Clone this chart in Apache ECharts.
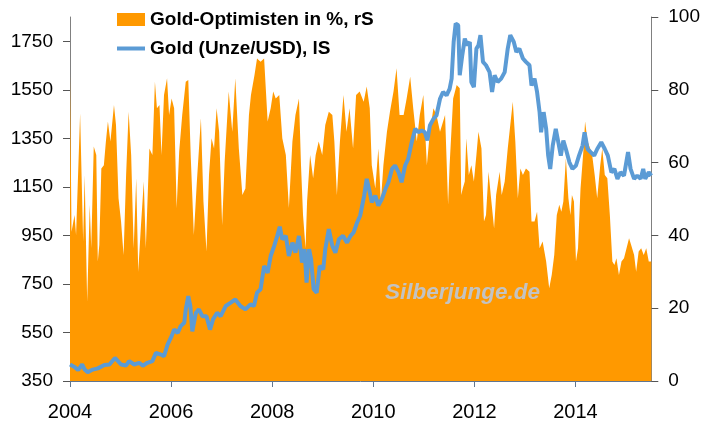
<!DOCTYPE html>
<html>
<head>
<meta charset="utf-8">
<script src="https://cdn.jsdelivr.net/npm/echarts@6/dist/echarts.min.js"></script>
<style>
  html, body { margin: 0; padding: 0; background: #fff; }
  #chart { width: 703px; height: 423px; }
</style>
</head>
<body>
<div id="chart"></div>
<script>
// Gold-Optimisten in % (rechte Achse)
var optYears = [2004.00, 2004.03, 2004.09, 2004.12, 2004.20, 2004.26, 2004.29, 2004.34, 2004.39, 2004.42,
    2004.47, 2004.52, 2004.55, 2004.58, 2004.62, 2004.67, 2004.71, 2004.75, 2004.80, 2004.87,
    2004.91, 2004.96, 2005.01, 2005.06, 2005.11, 2005.16, 2005.21, 2005.26, 2005.31, 2005.35,
    2005.40, 2005.46, 2005.50, 2005.57, 2005.63, 2005.68, 2005.72, 2005.77, 2005.81, 2005.86,
    2005.92, 2005.96, 2006.01, 2006.06, 2006.11, 2006.16, 2006.22, 2006.29, 2006.34, 2006.39,
    2006.45, 2006.51, 2006.59, 2006.64, 2006.70, 2006.75, 2006.80, 2006.85, 2006.90, 2006.95,
    2007.01, 2007.06, 2007.14, 2007.21, 2007.27, 2007.34, 2007.41, 2007.47, 2007.54, 2007.58,
    2007.65, 2007.70, 2007.77, 2007.84, 2007.91, 2007.97, 2008.02, 2008.07, 2008.14, 2008.20,
    2008.27, 2008.33, 2008.40, 2008.46, 2008.53, 2008.57, 2008.61, 2008.66, 2008.69, 2008.75,
    2008.81, 2008.86, 2008.92, 2008.99, 2009.05, 2009.12, 2009.19, 2009.23, 2009.28, 2009.34,
    2009.41, 2009.47, 2009.53, 2009.60, 2009.66, 2009.73, 2009.81, 2009.87, 2009.93, 2009.97,
    2010.04, 2010.10, 2010.15, 2010.20, 2010.27, 2010.33, 2010.40, 2010.46, 2010.52, 2010.60,
    2010.66, 2010.73, 2010.79, 2010.86, 2010.92, 2010.99, 2011.06, 2011.12, 2011.19, 2011.25,
    2011.32, 2011.42, 2011.48, 2011.51, 2011.58, 2011.65, 2011.71, 2011.74, 2011.77, 2011.81,
    2011.84, 2011.89, 2011.94, 2011.99, 2012.04, 2012.08, 2012.14, 2012.19, 2012.23, 2012.28,
    2012.33, 2012.39, 2012.43, 2012.50, 2012.54, 2012.60, 2012.66, 2012.71, 2012.76, 2012.81,
    2012.86, 2012.91, 2012.96, 2013.02, 2013.09, 2013.13, 2013.19, 2013.24, 2013.29, 2013.35,
    2013.42, 2013.48, 2013.53, 2013.58, 2013.63, 2013.68, 2013.72, 2013.76, 2013.81, 2013.86,
    2013.90, 2013.93, 2013.97, 2014.01, 2014.05, 2014.10, 2014.16, 2014.19, 2014.24, 2014.29,
    2014.33, 2014.38, 2014.43, 2014.49, 2014.53, 2014.58, 2014.63, 2014.68, 2014.73, 2014.77,
    2014.81, 2014.86, 2014.91, 2014.96, 2015.01, 2015.06, 2015.10, 2015.16, 2015.20, 2015.25,
    2015.30, 2015.35, 2015.40, 2015.45, 2015.50];
var optValues = [84.6, 41.0, 45.6, 40.1, 73.5, 38.3, 56.6, 21.8, 48.4, 36.5,
    64.4, 62.1, 32.8, 37.4, 58.4, 59.3, 65.8, 71.3, 65.8, 75.8,
    70.3, 50.2, 43.8, 34.6, 56.6, 74.0, 62.1, 36.5, 55.7, 30.0,
    41.9, 54.8, 36.5, 63.9, 62.1, 82.2, 74.9, 75.8, 62.1, 78.6,
    83.2, 73.1, 77.6, 74.9, 47.5, 63.0, 73.1, 82.2, 82.7, 61.2,
    40.1, 54.8, 72.2, 49.3, 35.6, 56.6, 66.7, 63.9, 74.9, 68.5,
    42.8, 60.3, 79.5, 68.5, 83.2, 63.9, 51.1, 52.9, 73.1, 78.6,
    84.1, 88.6, 87.7, 88.6, 71.3, 74.9, 79.5, 77.6, 78.6, 66.7,
    62.1, 47.5, 65.8, 73.1, 77.6, 59.3, 45.6, 36.5, 49.3, 62.1,
    55.7, 62.1, 65.8, 62.1, 70.3, 74.0, 73.1, 65.8, 51.1, 65.8,
    78.6, 68.5, 74.9, 63.9, 78.6, 79.5, 76.7, 80.9, 74.9, 59.3,
    52.9, 63.9, 49.3, 59.3, 68.5, 74.0, 79.5, 85.9, 73.1, 73.1,
    77.6, 83.6, 74.9, 65.8, 73.1, 78.6, 59.3, 68.5, 74.9, 73.1,
    68.5, 73.1, 48.4, 59.3, 77.6, 81.3, 80.4, 51.1, 52.9, 54.8,
    66.7, 56.6, 59.3, 54.8, 62.1, 68.5, 63.9, 43.8, 45.6, 57.5,
    50.2, 41.9, 51.1, 57.5, 51.1, 54.8, 63.9, 70.3, 76.7, 65.8,
    50.2, 58.4, 56.6, 58.4, 57.5, 43.8, 43.8, 46.5, 36.5, 38.3,
    32.8, 25.5, 29.1, 34.6, 45.6, 48.4, 46.5, 49.3, 61.2, 50.2,
    45.6, 51.1, 49.3, 32.8, 36.5, 52.9, 63.9, 71.3, 65.8, 63.9,
    62.1, 56.6, 50.2, 59.3, 63.9, 56.6, 55.7, 45.6, 32.8, 31.9,
    33.7, 29.1, 32.8, 33.7, 36.5, 39.2, 37.4, 34.6, 30.0, 35.6,
    36.5, 34.6, 36.5, 32.8, 32.8];

// Gold (Unze/USD) (linke Achse)
var goldYears = [2004.00, 2004.09, 2004.16, 2004.24, 2004.29, 2004.35, 2004.45, 2004.55, 2004.68, 2004.78,
    2004.89, 2005.01, 2005.11, 2005.17, 2005.27, 2005.37, 2005.44, 2005.53, 2005.63, 2005.70,
    2005.80, 2005.86, 2005.93, 2006.01, 2006.06, 2006.13, 2006.19, 2006.26, 2006.29, 2006.34,
    2006.38, 2006.42, 2006.49, 2006.55, 2006.62, 2006.70, 2006.77, 2006.83, 2006.91, 2006.98,
    2007.08, 2007.18, 2007.27, 2007.37, 2007.47, 2007.57, 2007.64, 2007.70, 2007.77, 2007.84,
    2007.91, 2007.97, 2008.04, 2008.10, 2008.15, 2008.20, 2008.27, 2008.33, 2008.40, 2008.46,
    2008.53, 2008.59, 2008.64, 2008.68, 2008.73, 2008.77, 2008.82, 2008.88, 2008.94, 2009.01,
    2009.05, 2009.12, 2009.19, 2009.25, 2009.32, 2009.40, 2009.48, 2009.55, 2009.61, 2009.68,
    2009.74, 2009.82, 2009.87, 2009.93, 2009.97, 2010.04, 2010.10, 2010.17, 2010.24, 2010.30,
    2010.37, 2010.43, 2010.50, 2010.56, 2010.63, 2010.69, 2010.76, 2010.83, 2010.89, 2010.96,
    2011.02, 2011.07, 2011.12, 2011.19, 2011.25, 2011.32, 2011.38, 2011.45, 2011.51, 2011.55,
    2011.59, 2011.63, 2011.68, 2011.71, 2011.76, 2011.81, 2011.86, 2011.91, 2011.94, 2011.99,
    2012.04, 2012.08, 2012.12, 2012.17, 2012.23, 2012.30, 2012.35, 2012.40, 2012.46, 2012.53,
    2012.60, 2012.66, 2012.71, 2012.78, 2012.83, 2012.89, 2012.96, 2013.02, 2013.09, 2013.13,
    2013.19, 2013.24, 2013.29, 2013.32, 2013.37, 2013.42, 2013.46, 2013.50, 2013.55, 2013.61,
    2013.66, 2013.71, 2013.76, 2013.81, 2013.88, 2013.94, 2014.01, 2014.07, 2014.14, 2014.18,
    2014.24, 2014.30, 2014.37, 2014.43, 2014.51, 2014.58, 2014.64, 2014.71, 2014.77, 2014.83,
    2014.89, 2014.96, 2015.04, 2015.09, 2015.16, 2015.22, 2015.29, 2015.34, 2015.38, 2015.45,
    2015.50];
var goldPrices = [418, 408, 395, 418, 397, 386, 397, 402, 416, 418,
    445, 418, 414, 432, 418, 425, 413, 425, 432, 466,
    459, 452, 500, 535, 562, 548, 576, 590, 645, 700,
    659, 555, 631, 645, 617, 617, 562, 604, 631, 617,
    659, 673, 686, 659, 645, 666, 659, 714, 728, 824,
    796, 865, 907, 948, 986, 934, 948, 865, 920, 879,
    948, 838, 893, 755, 893, 851, 728, 714, 824, 810,
    893, 976, 907, 879, 934, 948, 920, 948, 962, 1003,
    1031, 1114, 1183, 1128, 1086, 1114, 1073, 1100, 1141, 1169,
    1224, 1238, 1210, 1169, 1238, 1265, 1334, 1389, 1375, 1382,
    1375, 1341, 1403, 1430, 1444, 1513, 1541, 1527, 1554, 1596,
    1747, 1823, 1816, 1610, 1692, 1761, 1733, 1747, 1582, 1561,
    1720, 1733, 1775, 1665, 1651, 1623, 1541, 1610, 1582, 1596,
    1623, 1720, 1775, 1747, 1706, 1720, 1679, 1665, 1651, 1568,
    1596, 1541, 1458, 1375, 1458, 1389, 1279, 1224, 1320, 1389,
    1334, 1279, 1341, 1306, 1251, 1224, 1238, 1279, 1320, 1375,
    1306, 1293, 1279, 1306, 1334, 1306, 1279, 1210, 1224, 1183,
    1210, 1196, 1293, 1224, 1183, 1196, 1183, 1224, 1183, 1210,
    1196];

var yearTicks = [2004, 2006, 2008, 2010, 2012, 2014];
var leftTicks = [350, 550, 750, 950, 1150, 1350, 1550, 1750];
var rightTicks = [0, 20, 40, 60, 80, 100];

var optData = optYears.map(function (y, i) { return [y, optValues[i]]; });
var goldData = goldYears.map(function (y, i) { return [y, goldPrices[i]]; });

var font = 'Liberation Sans, Arial, sans-serif';
var plain = function (v) { return String(v); };
var myChart = echarts.init(document.getElementById('chart'));

var option = {
    animation: false,
    backgroundColor: '#fff',
    grid: { left: 70, right: 49, top: 17, bottom: 42 },
    legend: {
        orient: 'vertical',
        left: 115,
        top: 10,
        padding: 0,
        itemWidth: 28,
        itemHeight: 13,
        itemGap: 10,
        textStyle: { fontFamily: font, fontSize: 19, fontWeight: 'bold', color: '#000' },
        data: [
            { name: 'Gold-Optimisten in %, rS', icon: 'rect' },
            { name: 'Gold (Unze/USD), lS', itemStyle: { opacity: 0 }, lineStyle: { width: 4 } }
        ]
    },
    graphic: [{
        type: 'text',
        left: 385,
        top: 281,
        z: 100,
        style: {
            text: 'Silberjunge.de',
            font: 'italic bold 22.5px ' + font,
            fill: '#c3c3c3'
        }
    }],
    xAxis: {
        type: 'value',
        min: 2004,
        max: 2015.5,
        splitLine: { show: false },
        axisLine: { show: true, lineStyle: { color: '#62768f', width: 1 } },
        axisTick: { show: true, length: 6, customValues: yearTicks, lineStyle: { color: '#62768f' } },
        axisLabel: {
            customValues: yearTicks,
            margin: 21,
            fontFamily: font,
            fontSize: 20,
            color: '#000',
            formatter: plain
        }
    },
    yAxis: [{
        type: 'value',
        min: 350,
        max: 1850,
        splitLine: { show: false },
        axisLine: { show: true, lineStyle: { color: '#808080' } },
        axisTick: { show: true, length: 7, customValues: leftTicks, lineStyle: { color: '#555' } },
        axisLabel: {
            customValues: leftTicks,
            margin: 17,
            fontFamily: font,
            fontSize: 19,
            color: '#000',
            formatter: plain
        }
    }, {
        type: 'value',
        min: 0,
        max: 100,
        interval: 20,
        position: 'right',
        splitLine: { show: false },
        axisLine: { show: true, lineStyle: { color: '#808080' } },
        axisTick: { show: true, length: 7, customValues: rightTicks, lineStyle: { color: '#555' } },
        axisLabel: {
            customValues: rightTicks,
            margin: 17,
            fontFamily: font,
            fontSize: 19,
            color: '#000',
            formatter: plain
        }
    }],
    series: [{
        name: 'Gold-Optimisten in %, rS',
        type: 'line',
        yAxisIndex: 1,
        data: optData,
        symbol: 'none',
        lineStyle: { width: 0 },
        itemStyle: { color: '#ff9900' },
        areaStyle: { color: '#ff9900', opacity: 1 },
        z: 1
    }, {
        name: 'Gold (Unze/USD), lS',
        type: 'line',
        yAxisIndex: 0,
        data: goldData,
        symbol: 'none',
        lineStyle: { width: 4, color: '#5b9bd5' },
        itemStyle: { color: '#5b9bd5' },
        z: 2
    }]
};
myChart.setOption(option);
</script>
</body>
</html>
